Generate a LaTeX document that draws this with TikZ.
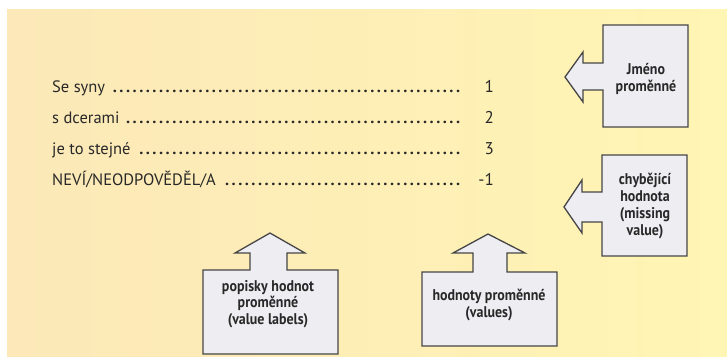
\documentclass[tikz,border=0pt]{standalone}
\usepackage{fontspec}
\setmainfont{PT Sans}
\newfontfamily\boxfont[FakeStretch=0.9]{PT Sans}
\definecolor{bgL}{RGB}{252,232,184}
\definecolor{bgR}{RGB}{255,245,180}
\definecolor{boxfill}{RGB}{237,237,242}
\definecolor{boxline}{RGB}{70,70,70}
\definecolor{txt}{RGB}{40,40,40}
\tikzset{
  callout/.style={draw=boxline, fill=boxfill, line width=1.3pt, line join=miter},
  boxtext/.style={align=center, text=txt, font=\boxfont\bfseries\fontsize{15.5}{16.8}\selectfont, inner sep=0pt},
  itemtext/.style={anchor=base west, text=txt, font=\fontsize{16.5}{18}\selectfont, inner sep=0pt},
  numtext/.style={anchor=base east, text=txt, font=\fontsize{17}{18}\selectfont, inner sep=0pt}
}
\newcommand{\lead}[1]{\makebox[410pt][l]{#1\ \leaders\hbox to 6.6pt{\hss\bfseries.\hss}\hfill}}
\begin{document}
\begin{tikzpicture}[x=1pt,y=-1pt]
\useasboundingbox (0,0) rectangle (727,356);
\fill[white] (0,0) rectangle (727,356);
\shade[left color=bgL, right color=bgR] (7,9) rectangle (727,356);

% list
\node[itemtext] (i1) at (52,92) {\lead{Se syny}};
\node[itemtext] (i2) at (52,123) {\lead{s dcerami}};
\node[itemtext] (i3) at (52,154) {\lead{je to stejné}};
\node[itemtext] (i4) at (52,185) {\lead{NEVÍ/NEODPOVĚDĚL/A}};
\node[numtext] (n1) at (494,92) {1};
\node[numtext] (n2) at (494,123) {2};
\node[numtext] (n3) at (494,154) {3};
\node[numtext] (n4) at (494,185) {-1};

% Jméno proměnné
\draw[callout] (603,25) -- (688,25) -- (688,127) -- (603,127) -- (603,90) -- (583,90) -- (583,102) -- (565,77) -- (583,52) -- (583,63) -- (603,63) -- cycle;
\node[boxtext] (jm) at (646,79) {Jméno\\proměnné};

% chybějící hodnota
\draw[callout] (602,155) -- (687,155) -- (687,256) -- (602,256) -- (602,222) -- (582,222) -- (582,233) -- (564,207) -- (582,180) -- (582,192) -- (602,192) -- cycle;
\node[boxtext] (ch) at (645,206) {chybějící\\hodnota\\(missing\\value)};

% popisky hodnot
\draw[callout] (203,270) -- (250,270) -- (250,253) -- (235,253) -- (270,233) -- (305,253) -- (287,253) -- (287,270) -- (338,270) -- (338,354) -- (203,354) -- cycle;
\node[boxtext] (pop) at (268,304) {popisky hodnot\\proměnné\\(value labels)};

% hodnoty proměnné
\draw[callout] (422,272) -- (473,272) -- (473,253) -- (453,253) -- (488,234) -- (525,253) -- (507,253) -- (507,272) -- (557,272) -- (557,346) -- (422,346) -- cycle;
\node[boxtext] (hod) at (489,305) {hodnoty proměnné\\(values)};
\end{tikzpicture}
\end{document}
